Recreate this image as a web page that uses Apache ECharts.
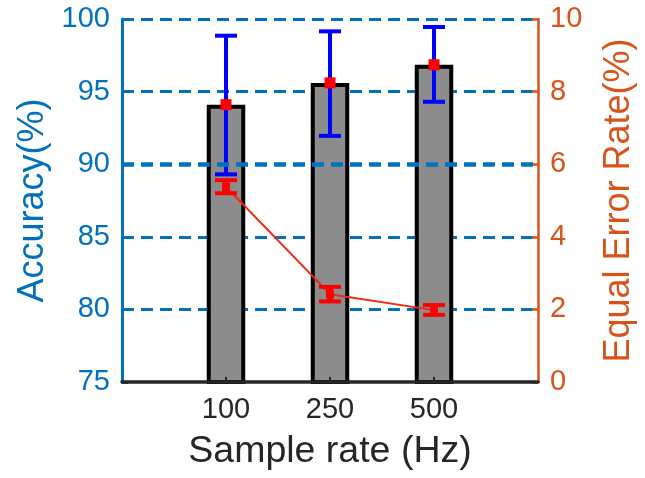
<!DOCTYPE html>
<html>
<head>
<meta charset="utf-8">
<script src="https://cdn.jsdelivr.net/npm/echarts@6/dist/echarts.min.js"></script>
<style>html,body{margin:0;padding:0;background:#fff;}#c{width:645px;height:478px;}</style>
</head>
<body>
<div id="c"></div>
<script>
var categories = ['100', '250', '500'];
var accMean = [94.1, 95.6, 96.85];
var accLow = [89.3, 91.95, 94.3];
var accHigh = [98.85, 99.15, 99.45];
var eerMean = [5.38, 2.42, 1.98];
var eerLow = [5.2, 2.22, 1.85];
var eerHigh = [5.56, 2.62, 2.12];
var accTicks = [75, 80, 85, 90, 95, 100];
var eerTicks = [0, 2, 4, 6, 8, 10];

var BLUE = '#0072BD', ORANGE = '#D95319', DARK = '#262626';
var FONT = 'Liberation Sans';

function pos(i) { return i + 1; }

var barData = accMean.map(function (v, i) { return [pos(i), v]; });
var accErr = accMean.map(function (v, i) { return [pos(i), accLow[i], accHigh[i], v]; });
var eerLine = eerMean.map(function (v, i) { return [pos(i), v]; });
var eerErr = eerMean.map(function (v, i) { return [pos(i), eerLow[i], eerHigh[i], v]; });

function errRender(capHalf, stemW, capW, color, sqSize, sqColor) {
  return function (params, api) {
    var x = api.value(0), lo = api.value(1), hi = api.value(2), m = api.value(3);
    var pLo = api.coord([x, lo]), pHi = api.coord([x, hi]), pM = api.coord([x, m]);
    var ch = [
      { type: 'line', shape: { x1: pLo[0], y1: pLo[1], x2: pHi[0], y2: pHi[1] }, style: { stroke: color, lineWidth: stemW } },
      { type: 'line', shape: { x1: pLo[0] - capHalf, y1: pLo[1], x2: pLo[0] + capHalf, y2: pLo[1] }, style: { stroke: color, lineWidth: capW } },
      { type: 'line', shape: { x1: pHi[0] - capHalf, y1: pHi[1], x2: pHi[0] + capHalf, y2: pHi[1] }, style: { stroke: color, lineWidth: capW } }
    ];
    if (sqSize) {
      ch.push({ type: 'rect', shape: { x: pM[0] - sqSize / 2, y: pM[1] - sqSize / 2, width: sqSize, height: sqSize }, style: { fill: sqColor } });
    }
    return { type: 'group', children: ch };
  };
}

var chart = echarts.init(document.getElementById('c'), null, { renderer: 'canvas' });
chart.setOption({
  animation: false,
  backgroundColor: '#fff',
  textStyle: { fontFamily: FONT },
  grid: { left: 122, right: 95, top: 19, bottom: 96, containLabel: false },
  xAxis: {
    type: 'value', min: 0, max: 4, interval: 1, z: 6,
    axisLine: { show: true, onZero: false, lineStyle: { color: DARK, width: 3.5 } },
    axisTick: { show: true, inside: true, length: 5, lineStyle: { color: DARK, width: 2 },
      customValues: [1, 2, 3] },
    axisLabel: { color: DARK, fontSize: 29, fontFamily: FONT, margin: 13,
      customValues: [1, 2, 3],
      formatter: function (v) { return categories[Math.round(v) - 1] || ''; } },
    splitLine: { show: false },
    name: 'Sample rate (Hz)', nameLocation: 'middle', nameGap: 51,
    nameTextStyle: { color: DARK, fontSize: 37.5, fontFamily: FONT }
  },
  yAxis: [
    {
      type: 'value', min: accTicks[0], max: accTicks[accTicks.length - 1], interval: 5,
      position: 'left',
      axisLine: { show: true, lineStyle: { color: BLUE, width: 3 } },
      axisTick: { show: true, inside: true, length: 6, lineStyle: { color: BLUE, width: 3 } },
      axisLabel: { color: BLUE, fontSize: 29, fontFamily: FONT, margin: 12 },
      splitLine: { show: true, showMinLine: false, lineStyle: { color: BLUE, width: 3, type: [12, 7] } },
      name: 'Accuracy(%)', nameLocation: 'middle', nameGap: 64, nameRotate: 90,
      nameTextStyle: { color: BLUE, fontSize: 36, fontFamily: FONT }
    },
    {
      type: 'value', min: eerTicks[0], max: eerTicks[eerTicks.length - 1], interval: 2,
      position: 'right',
      axisLine: { show: true, lineStyle: { color: ORANGE, width: 2.5 } },
      axisTick: { show: true, inside: true, length: 6, lineStyle: { color: ORANGE, width: 2.5 } },
      axisLabel: { color: ORANGE, fontSize: 29, fontFamily: FONT, margin: 12 },
      splitLine: { show: false },
      name: 'Equal Error Rate(%)', nameLocation: 'middle', nameGap: 63, nameRotate: 90,
      nameTextStyle: { color: ORANGE, fontSize: 36, fontFamily: FONT }
    }
  ],
  series: [
    {
      type: 'line', data: [], z: 1, silent: true,
      markLine: { silent: true, symbol: 'none', label: { show: false },
        lineStyle: { color: BLUE, width: 4.5, type: [12, 7] },
        data: [{ yAxis: 90 }] }
    },
    {
      type: 'bar', data: barData, barWidth: 38.5, z: 2,
      itemStyle: { color: '#8c8c8c', borderColor: '#000', borderWidth: 4 }
    },
    {
      type: 'custom', data: accErr, z: 3,
      encode: { x: 0, y: [1, 2] },
      renderItem: errRender(11, 4, 4, '#0000ff', 11, '#ff0000')
    },
    {
      type: 'line', yAxisIndex: 1, data: eerLine, z: 4, symbol: 'none',
      lineStyle: { color: '#ee2a12', width: 2 }
    },
    {
      type: 'custom', yAxisIndex: 1, data: eerErr, z: 5,
      encode: { x: 0, y: [1, 2] },
      renderItem: errRender(11, 6, 4, '#ff0000', 8, '#ff0000')
    }
  ]
});
</script>
</body>
</html>
